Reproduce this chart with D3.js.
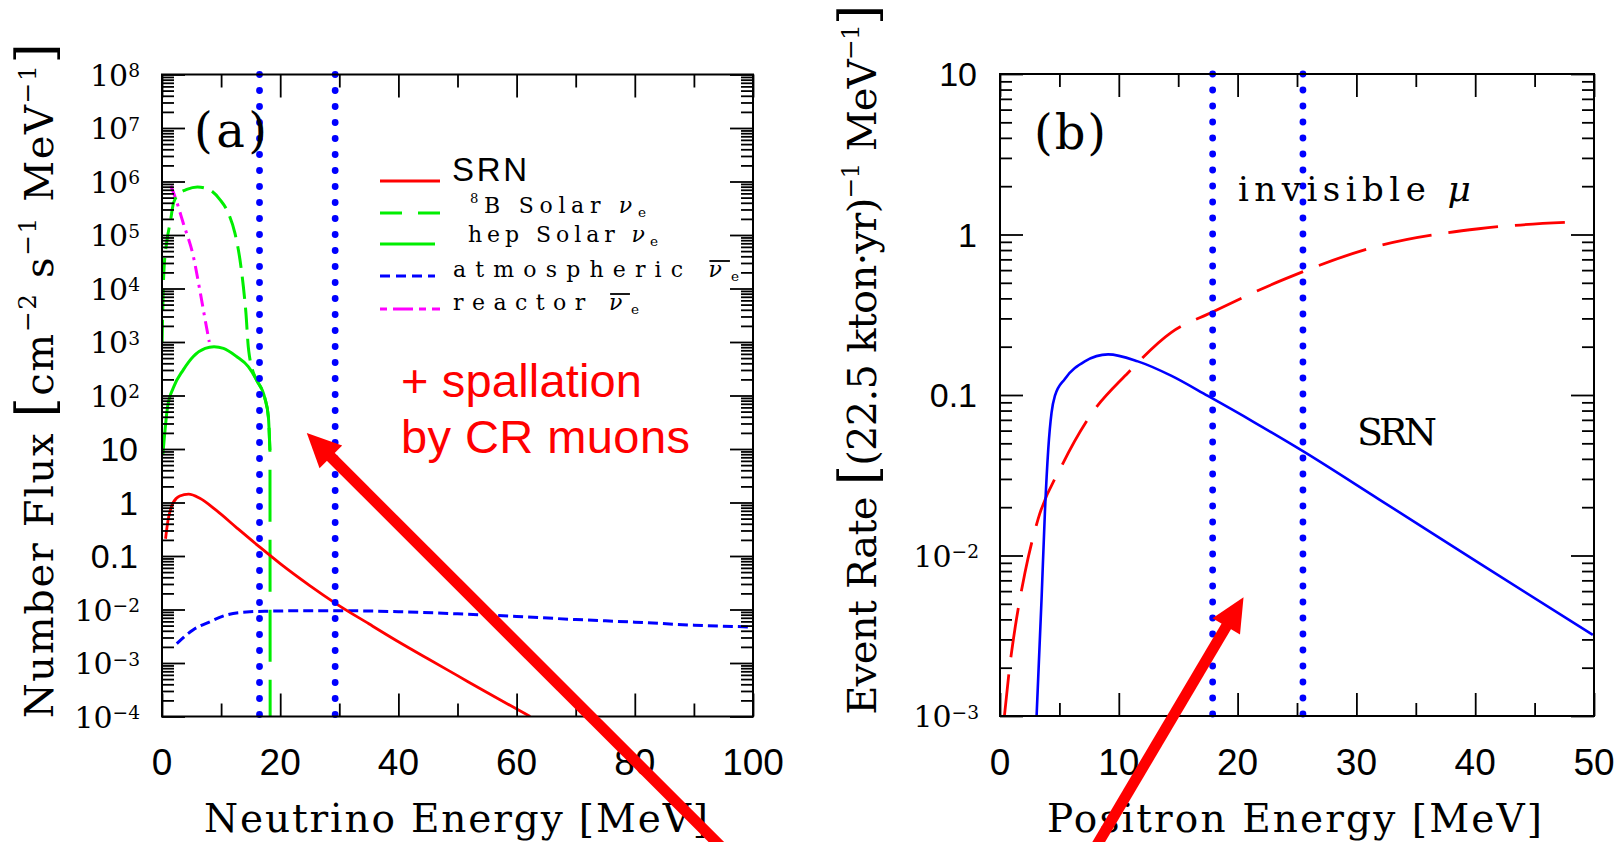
<!DOCTYPE html>
<html>
<head>
<meta charset="utf-8">
<title>Supernova relic neutrino spectra and event rates</title>
<script src="https://cdn.jsdelivr.net/npm/d3@7/dist/d3.min.js"></script>
<style>
  html, body { margin: 0; padding: 0; background: #fff; }
  svg { display: block; }
</style>
</head>
<body>
<svg id="chart" width="1624" height="842"></svg>
<script>
// ---------- Panel (a): number flux [cm^-2 s^-1 MeV^-1] vs neutrino energy [MeV] ----------
const srnEnergyA = [0.6, 1.0, 1.9, 3.0, 4.5, 6.4, 9.2, 12.6, 16.5, 20, 25, 29.3, 35, 40, 45, 50, 55, 62.3];
const srnFluxA   = [0.21, 0.45, 1.0, 1.32, 1.43, 1.20, 0.71, 0.34, 0.148, 0.072, 0.028, 0.0132, 0.0054, 0.0025, 0.0012, 5.8e-4, 2.8e-4, 1.0e-4];

const b8Energy = [0.02, 0.14, 0.3, 0.84, 1.4, 1.96, 3.0, 4.2, 6.0, 7.6, 9.8, 11.2, 12.35, 13.2, 13.76, 14.2, 14.6, 14.8, 15.2, 16.0, 17.4, 18.0, 18.27, 18.3];
const b8Flux   = [1.0e3, 4.6e3, 1.9e4, 7.9e4, 1.74e5, 4.0e5, 6.0e5, 7.1e5, 7.9e5, 7.4e5, 4.6e5, 2.6e5, 1.07e5, 3.4e4, 1.1e4, 3.5e3, 8.1e2, 5.4e2, 3.3e2, 195, 89, 40, 8.9, 1.0e-4];

const hepEnergy = [0.15, 0.95, 1.9, 3.6, 5.3, 7.3, 8.8, 10.4, 12.6, 14.6, 16.0, 17.4, 18.0, 18.27];
const hepFlux   = [7.9, 62, 138, 302, 537, 759, 813, 759, 537, 347, 195, 89, 40, 8.9];

const atmEnergy = [2.5, 5.3, 8.1, 10.9, 14.3, 18.3, 25, 30, 40, 50, 60, 70, 80, 90, 100];
const atmFlux   = [2.3e-3, 4.2e-3, 5.9e-3, 7.9e-3, 9.0e-3, 9.3e-3, 9.5e-3, 9.5e-3, 9.1e-3, 8.3e-3, 7.4e-3, 6.5e-3, 5.8e-3, 5.1e-3, 4.7e-3];

const reactorEnergy = [1.5, 2.2, 3.6, 5.3, 6.4, 7.3, 8.0];
const reactorFlux   = [8.3e5, 5.2e5, 1.66e5, 4.0e4, 9.3e3, 2.6e3, 1.0e3];

const windowA = [16.5, 29.3];              // energy window edges (dotted)
const arrowAEnergy = [97, 24.5];           // tail, head
const arrowAFlux   = [2.0e-7, 20];

// ---------- Panel (b): event rate [(22.5 kton yr)^-1 MeV^-1] vs positron energy [MeV] ----------
const srnEnergyB = [3.08, 3.5, 3.78, 4.06, 4.34, 4.62, 5.46, 7.14, 9.1, 11.6, 14.4, 17.5, 21.4, 25.5, 31.9, 40.3, 49.9];
const srnRateB   = [1.0e-3, 5.4e-3, 0.0186, 0.0457, 0.0776, 0.0986, 0.126, 0.162, 0.179, 0.162, 0.132, 0.0986, 0.0676, 0.0447, 0.0224, 0.0090, 0.0032];

const muEnergyB = [0.3, 0.84, 1.26, 2.1, 3.2, 5.2, 7.4, 10.8, 14.4, 17.8, 23.95, 31.9, 40.3, 48.5];
const muRateB   = [8.9e-4, 2.1e-3, 3.5e-3, 7.8e-3, 0.0168, 0.0363, 0.0708, 0.138, 0.245, 0.327, 0.527, 0.851, 1.086, 1.197];

const windowB = [17.9, 25.5];
const arrowBEnergy = [7.5, 20.5];
const arrowBRate   = [1.3e-4, 5.5e-3];

// ---------- ticks ----------
const xMajorA = [0, 20, 40, 60, 80, 100];
const xMinorA = [10, 30, 50, 70, 90];
const yDecadesA = [-4, -3, -2, -1, 0, 1, 2, 3, 4, 5, 6, 7, 8];
const xMajorB = [0, 10, 20, 30, 40, 50];
const xMinorB = [5, 15, 25, 35, 45];
const yDecadesB = [-3, -2, -1, 0, 1];
const plainDecadeLabels = { "1": "10", "0": "1", "-1": "0.1" };

const SERIF = '"DejaVu Serif", serif';
const SANS = '"Liberation Sans", Arial, sans-serif';
const RED = "#ff0000", GREEN = "#00ee00", BLUE = "#0000ff", MAGENTA = "#ff00ff";

const svg = d3.select("#chart");

const xA = d3.scaleLinear().domain([0, 100]).range([162, 753]);
const yA = d3.scaleLog().domain([1e-4, 1e8]).range([716.5, 74.5]);
const xB = d3.scaleLinear().domain([0, 50]).range([1000, 1594]);
const yB = d3.scaleLog().domain([1e-3, 10]).range([716, 74]);

const defs = svg.append("defs");
function clipFor(id, x, y) {
  const [x0, x1] = x.range(), [y0, y1] = y.range();
  defs.append("clipPath").attr("id", id).append("rect")
    .attr("x", x0).attr("y", y1).attr("width", x1 - x0).attr("height", y0 - y1);
}
clipFor("clipA", xA, yA);
clipFor("clipB", xB, yB);

const zip = (xs, ys) => xs.map((v, i) => [v, ys[i]]);

function curve(g, x, y, pts, st) {
  const line = d3.line().x(d => x(d[0])).y(d => y(d[1])).curve(d3.curveMonotoneX);
  return g.append("path").datum(pts).attr("d", line)
    .attr("fill", "none").attr("stroke", st.color).attr("stroke-width", st.width || 2.8)
    .attr("stroke-dasharray", st.dash || null).attr("stroke-dashoffset", st.offset || null)
    .attr("stroke-linejoin", "round");
}

function dottedVertical(g, x, y, e) {
  const [y0, y1] = y.range();
  g.append("line").attr("x1", x(e)).attr("x2", x(e)).attr("y1", y1).attr("y2", y0)
    .attr("stroke", BLUE).attr("stroke-width", 6.8).attr("stroke-linecap", "round")
    .attr("stroke-dasharray", "0 16");
}

function fitWidth(t, target) {
  const node = t.node();
  const w = node.getComputedTextLength();
  const n = node.textContent.length;
  if (n > 1) t.attr("letter-spacing", (target - w) / (n - 1));
}

// text made of pieces: {t, scale, shift (em of base size), italic}
function richText(parent, parts, o) {
  const t = parent.append("text").attr("font-family", o.family).attr("font-size", o.size)
    .attr("fill", o.fill || "#000");
  if (o.anchor) t.attr("text-anchor", o.anchor);
  if (o.transform) t.attr("transform", o.transform); else t.attr("x", o.x).attr("y", o.y);
  let cur = 0;
  parts.forEach(p => {
    const shift = (p.shift || 0) * o.size;
    const ts = t.append("tspan").text(p.t);
    if (shift !== cur) ts.attr("dy", shift - cur);
    cur = shift;
    if (p.scale) ts.attr("font-size", o.size * p.scale);
    if (p.italic) ts.attr("font-style", "italic");
  });
  if (o.width) fitWidth(t, o.width);
  return t;
}

// bar over one character of a text (antineutrino symbol)
function overbar(parent, t, charIndex) {
  const r = t.node().getExtentOfChar(charIndex);
  parent.append("line").attr("x1", r.x + 1).attr("x2", r.x + r.width - 1)
    .attr("y1", r.y + 4).attr("y2", r.y + 4).attr("stroke", "#000").attr("stroke-width", 1.8);
}

function axesFor(g, x, y, xMajor, xMinor, decades, labelRight, xLabelBaseline) {
  const [xl, xr] = x.range(), [yb, yt] = y.range();
  const tickStyle = sel => {
    sel.select(".domain").remove();
    sel.selectAll(".tick line").attr("stroke", "#000").attr("stroke-width", 1.8);
    sel.selectAll(".tick text").remove();
  };
  const yMinor = [];
  decades.slice(0, -1).forEach(d => { for (let k = 2; k <= 9; k++) yMinor.push(k * Math.pow(10, d)); });
  const yMajor = decades.map(d => Math.pow(10, d));

  g.append("g").attr("transform", `translate(0,${yb})`).call(d3.axisBottom(x).tickValues(xMajor).tickSizeInner(-23).tickSizeOuter(0)).call(tickStyle);
  g.append("g").attr("transform", `translate(0,${yb})`).call(d3.axisBottom(x).tickValues(xMinor).tickSizeInner(-13).tickSizeOuter(0)).call(tickStyle);
  g.append("g").attr("transform", `translate(0,${yt})`).call(d3.axisTop(x).tickValues(xMajor).tickSizeInner(-23).tickSizeOuter(0)).call(tickStyle);
  g.append("g").attr("transform", `translate(0,${yt})`).call(d3.axisTop(x).tickValues(xMinor).tickSizeInner(-13).tickSizeOuter(0)).call(tickStyle);
  g.append("g").attr("transform", `translate(${xl},0)`).call(d3.axisLeft(y).tickValues(yMajor).tickSizeInner(-23).tickSizeOuter(0)).call(tickStyle);
  g.append("g").attr("transform", `translate(${xl},0)`).call(d3.axisLeft(y).tickValues(yMinor).tickSizeInner(-12).tickSizeOuter(0)).call(tickStyle);
  g.append("g").attr("transform", `translate(${xr},0)`).call(d3.axisRight(y).tickValues(yMajor).tickSizeInner(-23).tickSizeOuter(0)).call(tickStyle);
  g.append("g").attr("transform", `translate(${xr},0)`).call(d3.axisRight(y).tickValues(yMinor).tickSizeInner(-12).tickSizeOuter(0)).call(tickStyle);

  g.append("rect").attr("x", xl).attr("y", yt).attr("width", xr - xl).attr("height", yb - yt)
    .attr("fill", "none").attr("stroke", "#000").attr("stroke-width", 2);

  // x tick labels
  g.selectAll(null).data(xMajor).enter().append("text")
    .attr("x", d => x(d)).attr("y", xLabelBaseline).attr("text-anchor", "middle")
    .attr("font-family", SANS).attr("font-size", 37).text(d => d);

  // y tick labels
  decades.forEach(d => {
    const ty = y(Math.pow(10, d));
    const plain = plainDecadeLabels[String(d)];
    if (plain) {
      g.append("text").attr("x", labelRight - 2).attr("y", ty + 12).attr("text-anchor", "end")
        .attr("font-family", SANS).attr("font-size", 34).text(plain);
    } else {
      const ex = d < 0 ? "\u2212" + (-d) : String(d);
      richText(g, [{ t: "10" }, { t: ex, scale: 0.62, shift: -0.28 }],
        { family: SERIF, size: 30, x: labelRight, y: ty + 11, anchor: "end" });
    }
  });
}

function arrow(g, x, y, es, vs, st) {
  const x0 = x(es[0]), y0 = y(vs[0]), x1 = x(es[1]), y1 = y(vs[1]);
  const L = Math.hypot(x1 - x0, y1 - y0), ux = (x1 - x0) / L, uy = (y1 - y0) / L;
  const bx = x1 - ux * st.head, by = y1 - uy * st.head;
  g.append("line").attr("x1", x0).attr("y1", y0).attr("x2", bx + ux * 2).attr("y2", by + uy * 2)
    .attr("stroke", RED).attr("stroke-width", st.width);
  const hw = st.headWidth / 2;
  g.append("polygon").attr("fill", RED)
    .attr("points", [[x1, y1], [bx - uy * hw, by + ux * hw], [bx + uy * hw, by - ux * hw]].map(p => p.join(",")).join(" "));
}

// ================= Panel (a) =================
const gA = svg.append("g");
const plotA = gA.append("g").attr("clip-path", "url(#clipA)");
curve(plotA, xA, yA, zip(atmEnergy, atmFlux), { color: BLUE, width: 3, dash: "10 5" });
curve(plotA, xA, yA, zip(reactorEnergy, reactorFlux), { color: MAGENTA, width: 3, dash: "13 6 3 6" });
const b8Pts = zip(b8Energy, b8Flux);
curve(plotA, xA, yA, b8Pts.slice(0, -1), { color: GREEN, width: 3, dash: "22 9" });
curve(plotA, xA, yA, b8Pts.slice(-2), { color: GREEN, width: 3, dash: "52 18", offset: 52 });
curve(plotA, xA, yA, zip(hepEnergy, hepFlux), { color: GREEN, width: 3 });
curve(plotA, xA, yA, zip(srnEnergyA, srnFluxA), { color: RED, width: 2.8 });
windowA.forEach(e => dottedVertical(gA, xA, yA, e));
axesFor(gA, xA, yA, xMajorA, xMinorA, yDecadesA, 140, 775);

richText(gA, [{ t: "(a)" }], { family: SERIF, size: 48, x: 194, y: 147, width: 73 });

// legend
const legA = gA.append("g");
const legLine = (x1, x2, yy, color, dash) => legA.append("line").attr("x1", x1).attr("x2", x2)
  .attr("y1", yy).attr("y2", yy).attr("stroke", color).attr("stroke-width", 3).attr("stroke-dasharray", dash || null);
legLine(380, 440, 181, RED);
legLine(380, 440, 213, GREEN, "22 16");
legLine(380, 435, 244, GREEN);
legLine(380, 435, 276, BLUE, "10 6");
legLine(380, 440, 309, MAGENTA, "7 6 20 6");
const LEG = 22;
const nu = { t: "\u03bd", italic: true };
const subE = { t: "e", scale: 0.62, shift: 0.2 };
richText(legA, [{ t: "SRN" }], { family: SANS, size: 33, x: 452, y: 180.5, width: 75 });
richText(legA, [{ t: "8", scale: 0.6, shift: -0.45 }, { t: "B Solar " }, nu, subE],
  { family: SERIF, size: LEG, x: 470, y: 213, width: 176 });
richText(legA, [{ t: "hep Solar " }, nu, subE],
  { family: SERIF, size: LEG, x: 468, y: 242, width: 190 });
const atmText = richText(legA, [{ t: "atmospheric " }, nu, subE],
  { family: SERIF, size: LEG, x: 453, y: 277, width: 286 });
overbar(legA, atmText, 12);
const reaText = richText(legA, [{ t: "reactor " }, nu, subE],
  { family: SERIF, size: LEG, x: 453, y: 310, width: 186 });
overbar(legA, reaText, 8);

richText(gA, [{ t: "+ spallation" }], { family: SANS, size: 47, x: 401, y: 397, fill: RED, width: 241 });
richText(gA, [{ t: "by CR muons" }], { family: SANS, size: 47, x: 401, y: 453, fill: RED, width: 289 });

// axis titles
richText(gA, [{ t: "Neutrino Energy [MeV]" }], { family: SERIF, size: 39, x: 204, y: 832, width: 504 });
richText(gA, [
  { t: "Number Flux " }, { t: "[", scale: 1.3 }, { t: "cm" }, { t: "\u22122", scale: 0.62, shift: -0.42 },
  { t: " s" }, { t: "\u22121", scale: 0.62, shift: -0.42 }, { t: " MeV" }, { t: "\u22121", scale: 0.62, shift: -0.42 },
  { t: "]", scale: 1.3 }
], { family: SERIF, size: 40, transform: "translate(53,380) rotate(-90)", anchor: "middle", width: 675 });

// ================= Panel (b) =================
const gB = svg.append("g");
const plotB = gB.append("g").attr("clip-path", "url(#clipB)");
curve(plotB, xB, yB, zip(muEnergyB, muRateB), { color: RED, width: 2.8, dash: "50 17" });
curve(plotB, xB, yB, zip(srnEnergyB, srnRateB), { color: BLUE, width: 2.6 });
windowB.forEach(e => dottedVertical(gB, xB, yB, e));
axesFor(gB, xB, yB, xMajorB, xMinorB, yDecadesB, 979, 775);

richText(gB, [{ t: "(b)" }], { family: SERIF, size: 48, x: 1034, y: 149, width: 72 });
richText(gB, [{ t: "invisible " }, { t: "\u03bc", italic: true, scale: 1.06 }],
  { family: SERIF, size: 34, x: 1238, y: 201, width: 233 });
richText(gB, [{ t: "SRN" }], { family: SERIF, size: 38, x: 1357, y: 445, width: 80 });

richText(gB, [{ t: "Positron Energy [MeV]" }], { family: SERIF, size: 39, x: 1047, y: 832, width: 495 });
richText(gB, [
  { t: "Event Rate " }, { t: "[", scale: 1.3 }, { t: "(22.5 kton\u00b7yr)" }, { t: "\u22121", scale: 0.62, shift: -0.42 },
  { t: " MeV" }, { t: "\u22121", scale: 0.62, shift: -0.42 }, { t: "]", scale: 1.3 }
], { family: SERIF, size: 40, transform: "translate(876,360) rotate(-90)", anchor: "middle", width: 710 });

// ================= annotation arrows =================
const gArrows = svg.append("g");
arrow(gArrows, xA, yA, arrowAEnergy, arrowAFlux, { width: 11, head: 34, headWidth: 32 });
arrow(gArrows, xB, yB, arrowBEnergy, arrowBRate, { width: 11, head: 34, headWidth: 32 });
</script>
</body>
</html>
